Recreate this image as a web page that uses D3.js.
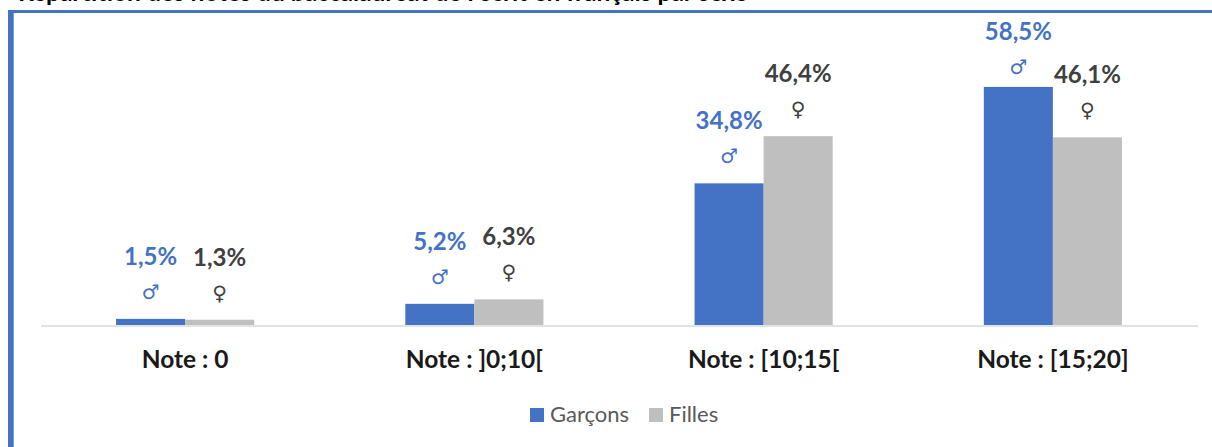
<!DOCTYPE html>
<html><head><meta charset="utf-8">
<style>html,body{margin:0;padding:0;background:#fff;overflow:hidden}svg{display:block}text{font-family:Lato,"Open Sans",sans-serif}</style>
<script src="https://cdn.jsdelivr.net/npm/d3@7"></script></head><body><svg id="c" width="1212" height="447"></svg>
<script>
const categories=["Note : 0","Note : ]0;10[","Note : [10;15[","Note : [15;20]"];
const garcons=[1.5,5.2,34.8,58.5];
const filles=[1.3,6.3,46.4,46.1];
const garconsLabels=["1,5%","5,2%","34,8%","58,5%"];
const fillesLabels=["1,3%","6,3%","46,4%","46,1%"];
const seriesNames=["Garçons","Filles"];
const colors=["#4472c4","#bfbfbf"];
const labelColors=["#4472c4","#404040"];
const title="Répartition des notes du baccalauréat de l'écrit en français par sexe";

const svg=d3.select("#c");
svg.append("text").attr("x",18).attr("y",1).attr("font-size",24.5).attr("font-weight",700).attr("fill","#000").text(title);
svg.append("path").attr("d","M8 447V10H1212V13H13.7V447Z").attr("fill","#4472c4");

const x=d3.scaleBand().domain(categories).range([40.5,1197.5]).paddingInner(0.5225).paddingOuter(0.26125);
const x1=d3.scaleBand().domain([0,1]).range([0,x.bandwidth()]);
const y=d3.scaleLinear().domain([0,60]).range([325,325-60*4.07]);

[garcons,filles].forEach((vals,s)=>{
  svg.append("g").selectAll("rect").data(vals).join("rect")
    .attr("x",(d,i)=>x(categories[i])+x1(s)).attr("width",x1.bandwidth())
    .attr("y",d=>y(d)).attr("height",d=>y(0)-y(d)).attr("fill",colors[s]);
  const labs=s===0?garconsLabels:fillesLabels;
  svg.append("g").selectAll("text").data(vals).join("text")
    .attr("x",(d,i)=>x(categories[i])+x1(s)+x1.bandwidth()/2).attr("y",d=>Math.max(y(d)-54,40))
    .attr("text-anchor","middle").attr("font-size",24).attr("font-weight",700).attr("fill",labelColors[s])
    .text((d,i)=>labs[i]);
  svg.append("g").selectAll("text").data(vals).join("text")
    .attr("x",(d,i)=>x(categories[i])+x1(s)+x1.bandwidth()/2).attr("y",d=>Math.max(y(d)-20,74))
    .attr("text-anchor","middle").attr("font-size",20)
    .attr("style","font-family:'DejaVu Sans'").attr("fill",s===0?"#4472c4":"#404040")
    .text(s===0?"♂":"♀");
});
const ax=d3.axisBottom(x).tickSize(0).tickPadding(25);
const g=svg.append("g").attr("transform","translate(0,325.5)").call(ax);
g.select(".domain").attr("stroke","#d9d9d9").attr("stroke-width",1.5);
g.selectAll("text").attr("font-size",24.5).attr("font-weight",700).attr("fill","#1a1a1a").style("font-family","Lato");

const leg=[[530,550],[649,669]];
seriesNames.forEach((n,i)=>{
  svg.append("rect").attr("x",leg[i][0]).attr("y",408).attr("width",14).attr("height",14).attr("fill",colors[i]);
  svg.append("text").attr("x",leg[i][1]).attr("y",422).attr("font-size",22).attr("fill","#595959").text(n);
});
</script></body></html>
